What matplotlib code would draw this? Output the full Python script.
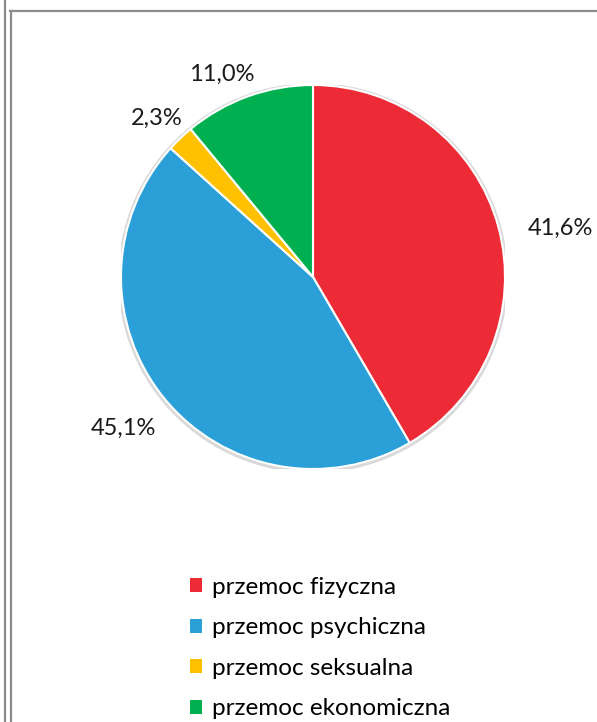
import numpy as np
import matplotlib.pyplot as plt
from matplotlib.patches import Patch, Circle

plt.rcParams['font.family'] = ['Lato', 'DejaVu Sans']

categories = ['przemoc fizyczna', 'przemoc psychiczna', 'przemoc seksualna', 'przemoc ekonomiczna']
values = [41.6, 45.1, 2.3, 11.0]
labels = ['41,6%', '45,1%', '2,3%', '11,0%']
colors = ['#ED2B36', '#2A9FD8', '#FFC000', '#00B050']
# label offsets from the wedge's outer edge, in points
label_off = [(45, -1), (-29, -22), (-17, 14), (-19, 16)]

fig = plt.figure(figsize=(5.97, 7.22), dpi=100)

# frame lines like the source document
fig.add_artist(plt.Line2D([4.5 / 597, 4.5 / 597], [0, 1], color='#8c8c8c', lw=1.6))
fig.add_artist(plt.Line2D([10.5 / 597, 10.5 / 597], [0, 1 - 11 / 722], color='#8c8c8c', lw=1.6))
fig.add_artist(plt.Line2D([10 / 597, 1], [1 - 11 / 722, 1 - 11 / 722], color='#8c8c8c', lw=1.6))

ax = fig.add_axes([121 / 597, 1 - 469 / 722, 384 / 597, 384 / 722])
ax.add_patch(Circle((0, -0.005), 1.012, color='#d9d9d9', zorder=0))
wedges, _ = ax.pie(values, colors=colors, startangle=90, counterclock=False,
                   radius=1, wedgeprops=dict(edgecolor='white', linewidth=1.5))
for w, lab, off in zip(wedges, labels, label_off):
    ang = np.deg2rad((w.theta1 + w.theta2) / 2)
    ax.annotate(lab, (np.cos(ang), np.sin(ang)), xytext=off, textcoords='offset points',
                ha='center', va='center', fontsize=17, color='#1a1a1a')
ax.set_xlim(-1, 1)
ax.set_ylim(-1, 1)
ax.set_aspect('equal')
ax.axis('off')

handles = [Patch(facecolor=c, edgecolor='none') for c in colors]
fig.legend(handles, categories, loc='upper left', bbox_to_anchor=(190 / 597, 1 - 577 / 722),
           frameon=False, fontsize=17.5, handlelength=0.5, handleheight=0.5,
           handletextpad=0.4, labelspacing=0.8, borderpad=0, borderaxespad=0)

fig.savefig('out.png', dpi=100)
